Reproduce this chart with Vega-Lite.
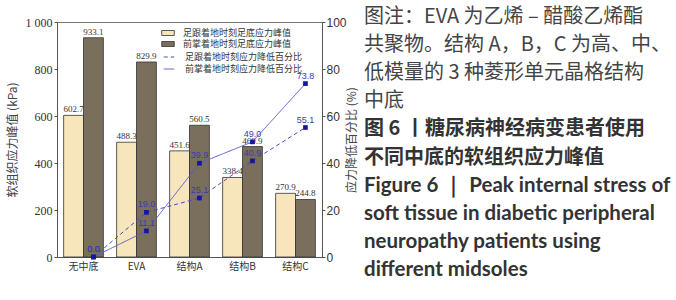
{
  "$schema": "https://vega.github.io/schema/vega-lite/v6.json",
  "padding": {"left": 5, "top": 6, "right": 0, "bottom": 0},
  "spacing": 6,
  "background": "white",
  "config": {"font": "Liberation Serif"},
  "datasets": {
    "bars": [
      {"cat": "无中底", "series": "足跟着地时刻足底应力峰值", "v": 602.7},
      {"cat": "无中底", "series": "前掌着地时刻足底应力峰值", "v": 933.1},
      {"cat": "EVA", "series": "足跟着地时刻足底应力峰值", "v": 488.3},
      {"cat": "EVA", "series": "前掌着地时刻足底应力峰值", "v": 829.9},
      {"cat": "结构A", "series": "足跟着地时刻足底应力峰值", "v": 451.6},
      {"cat": "结构A", "series": "前掌着地时刻足底应力峰值", "v": 560.5},
      {"cat": "结构B", "series": "足跟着地时刻足底应力峰值", "v": 338.4},
      {"cat": "结构B", "series": "前掌着地时刻足底应力峰值", "v": 469.9},
      {"cat": "结构C", "series": "足跟着地时刻足底应力峰值", "v": 270.9},
      {"cat": "结构C", "series": "前掌着地时刻足底应力峰值", "v": 244.8}
    ],
    "lines": [
      {"cat": "无中底", "series": "足跟着地时刻应力降低百分比", "p": 0.0},
      {"cat": "EVA", "series": "足跟着地时刻应力降低百分比", "p": 19.0},
      {"cat": "结构A", "series": "足跟着地时刻应力降低百分比", "p": 25.1},
      {"cat": "结构B", "series": "足跟着地时刻应力降低百分比", "p": 40.9},
      {"cat": "结构C", "series": "足跟着地时刻应力降低百分比", "p": 55.1},
      {"cat": "无中底", "series": "前掌着地时刻应力降低百分比", "p": 0.0},
      {"cat": "EVA", "series": "前掌着地时刻应力降低百分比", "p": 11.1},
      {"cat": "结构A", "series": "前掌着地时刻应力降低百分比", "p": 39.9},
      {"cat": "结构B", "series": "前掌着地时刻应力降低百分比", "p": 49.0},
      {"cat": "结构C", "series": "前掌着地时刻应力降低百分比", "p": 73.8}
    ],
    "caption": [
      {"line": 1, "part": "note", "text": "图注：EVA 为乙烯 – 醋酸乙烯酯"},
      {"line": 2, "part": "note", "text": "共聚物。结构 A，B，C 为高、中、"},
      {"line": 3, "part": "note", "text": "低模量的 3 种菱形单元晶格结构"},
      {"line": 4, "part": "note", "text": "中底"},
      {"line": 5, "part": "cn", "text": "图 6 丨糖尿病神经病变患者使用"},
      {"line": 6, "part": "cn", "text": "不同中底的软组织应力峰值"},
      {"line": 7, "part": "en", "text": "Figure 6 ｜ Peak internal stress of"},
      {"line": 8, "part": "en", "text": "soft tissue in diabetic peripheral"},
      {"line": 9, "part": "en", "text": "neuropathy patients using"},
      {"line": 10, "part": "en", "text": "different midsoles"}
    ]
  },
  "hconcat": [
    {
      "width": 265,
      "height": 235,
      "view": {"stroke": "#777", "strokeWidth": 1},
      "encoding": {
        "x": {
          "field": "cat", "type": "nominal",
          "sort": ["无中底", "EVA", "结构A", "结构B", "结构C"],
          "scale": {"paddingInner": 0.25, "paddingOuter": 0.125},
          "axis": {"title": null, "labelAngle": 0, "ticks": false, "labelPadding": 4,
                   "labelFont": "Noto Sans CJK SC", "labelFontSize": 10, "labelColor": "#333",
                   "domainColor": "#555"}
        }
      },
      "layer": [
        {
          "data": {"name": "bars"},
          "encoding": {
            "y": {
              "field": "v", "type": "quantitative",
              "scale": {"domain": [0, 1000]},
              "axis": {"title": "软组织应力峰值 (kPa)", "titleFont": "Noto Sans CJK SC",
                       "titleFontSize": 12, "titleFontWeight": "normal", "titleColor": "#444",
                       "titlePadding": 6, "values": [0, 200, 400, 600, 800, 1000],
                       "labelExpr": "datum.value >= 1000 ? '1 000' : datum.label",
                       "labelFontSize": 12, "labelColor": "#333", "grid": false,
                       "tickSize": 3, "tickColor": "#555", "domainColor": "#555", "labelPadding": 2}
            },
            "xOffset": {"field": "series", "type": "nominal",
                        "scale": {"domain": ["足跟着地时刻足底应力峰值", "前掌着地时刻足底应力峰值"], "paddingInner": 0, "paddingOuter": 0}}
          },
          "layer": [
            {
              "mark": {"type": "bar", "stroke": "#333", "strokeWidth": 0.8},
              "encoding": {
                "fill": {"field": "series", "type": "nominal",
                         "scale": {"domain": ["足跟着地时刻足底应力峰值", "前掌着地时刻足底应力峰值"], "range": ["#f7e5bb", "#7a6f5c"]},
                         "legend": {"title": null, "orient": "none", "legendX": 106, "legendY": 6,
                                    "symbolType": "M-1.5,-0.6H1.5V0.6H-1.5Z", "symbolSize": 70,
                                    "symbolStrokeColor": "#333", "symbolStrokeWidth": 0.8,
                                    "labelFont": "Noto Sans CJK SC", "labelFontSize": 9, "labelColor": "#333",
                                    "rowPadding": 1, "labelOffset": 10}}
              }
            },
            {
              "mark": {"type": "text", "dy": -6, "fontSize": 9, "color": "#333"},
              "encoding": {"text": {"field": "v", "type": "quantitative", "format": ".1f"}}
            }
          ]
        },
        {
          "data": {"name": "lines"},
          "encoding": {
            "y": {
              "field": "p", "type": "quantitative",
              "scale": {"domain": [0, 100]},
              "axis": {"orient": "right", "title": "应力降低百分比 (%)", "titleAngle": 270,
                       "titleFont": "Noto Sans CJK SC", "titleFontSize": 12, "titleFontWeight": "normal",
                       "titleColor": "#444", "titlePadding": 12, "values": [0, 20, 40, 60, 80, 100],
                       "labelFont": "Liberation Sans", "labelFontSize": 12, "labelColor": "#333",
                       "grid": false, "tickSize": 3, "tickColor": "#555", "domainColor": "#555", "labelPadding": 1}
            },
            "xOffset": {"datum": "前掌着地时刻足底应力峰值"}
          },
          "layer": [
            {
              "mark": {"type": "line", "strokeWidth": 1},
              "encoding": {
                "stroke": {"field": "series", "type": "nominal",
                           "scale": {"domain": ["足跟着地时刻应力降低百分比", "前掌着地时刻应力降低百分比"], "range": ["#4a4ac0", "#5a5ad0"]},
                           "legend": {"title": null, "orient": "none", "legendX": 106, "legendY": 29,
                                      "symbolType": "stroke", "symbolSize": 110, "symbolStrokeWidth": 1,
                                      "labelFont": "Noto Sans CJK SC", "labelFontSize": 9, "labelColor": "#333",
                                      "rowPadding": 1, "labelOffset": 10}},
                "strokeDash": {"field": "series", "type": "nominal",
                               "scale": {"domain": ["足跟着地时刻应力降低百分比", "前掌着地时刻应力降低百分比"], "range": [[4, 3], [1, 0]]}}
              }
            },
            {
              "mark": {"type": "point", "shape": "square", "size": 22, "filled": true, "color": "#1515a0", "opacity": 1}
            },
            {
              "mark": {"type": "text", "dy": -8, "fontSize": 9, "color": "#3a3ab0", "font": "Liberation Sans"},
              "encoding": {"text": {"field": "p", "type": "quantitative", "format": ".1f"}}
            }
          ]
        }
      ],
      "resolve": {"scale": {"y": "independent"}}
    },
    {
      "width": 300,
      "height": 235,
      "view": {"stroke": null},
      "data": {"name": "caption"},
      "encoding": {
        "x": {"datum": 0, "type": "quantitative", "scale": {"domain": [0, 1]}, "axis": null},
        "y": {"field": "line", "type": "quantitative", "scale": {"domain": [1.178, 9.538], "reverse": true, "zero": false, "nice": false}, "axis": null},
        "text": {"field": "text"}
      },
      "layer": [
        {
          "transform": [{"filter": "datum.part == 'note'"}],
          "mark": {"type": "text", "align": "left", "baseline": "middle", "font": "Noto Sans CJK SC", "fontSize": 20, "color": "#444", "clip": false}
        },
        {
          "transform": [{"filter": "datum.part == 'cn'"}],
          "mark": {"type": "text", "align": "left", "baseline": "middle", "font": "Noto Sans CJK SC", "fontSize": 20, "fontWeight": "bold", "color": "#333", "clip": false}
        },
        {
          "transform": [{"filter": "datum.part == 'en'"}],
          "mark": {"type": "text", "align": "left", "baseline": "middle", "font": "Lato", "fontSize": 20.5, "fontWeight": "bold", "color": "#333", "clip": false}
        }
      ]
    }
  ]
}
